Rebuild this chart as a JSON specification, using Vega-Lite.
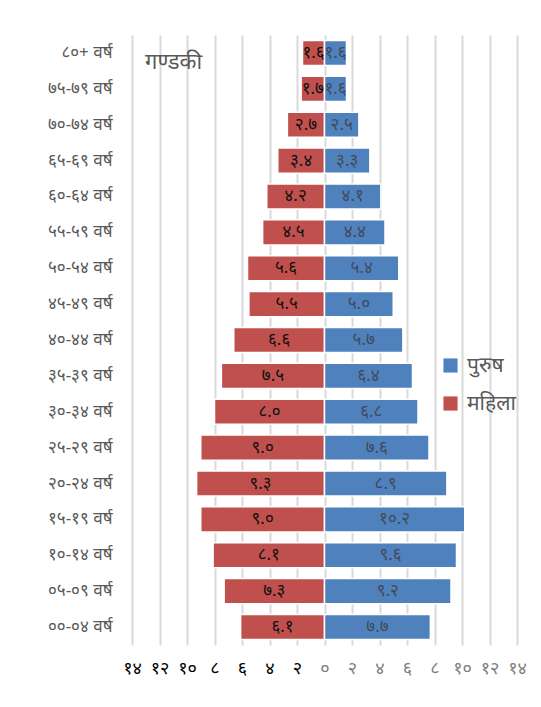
{
  "$schema": "https://vega.github.io/schema/vega-lite/v6.json",
  "width": 385,
  "height": 610,
  "autosize": {"type": "none"},
  "padding": {"left": 132, "top": 35, "right": 24, "bottom": 62},
  "background": "white",
  "title": {"text": "गण्डकी", "anchor": "start", "frame": "group", "orient": "top", "offset": -39, "dx": 13, "fontSize": 22, "fontWeight": "normal", "color": "#595959", "font": "Noto Sans"},
  "config": {"view": {"stroke": null}, "font": "Noto Sans"},
  "data": {"values": [
    {"age": "८०+ वर्ष", "sex": "महिला", "value": -1.6, "label": "१.६"},
    {"age": "८०+ वर्ष", "sex": "पुरुष", "value": 1.6, "label": "१.६"},
    {"age": "७५-७९ वर्ष", "sex": "महिला", "value": -1.7, "label": "१.७"},
    {"age": "७५-७९ वर्ष", "sex": "पुरुष", "value": 1.6, "label": "१.६"},
    {"age": "७०-७४ वर्ष", "sex": "महिला", "value": -2.7, "label": "२.७"},
    {"age": "७०-७४ वर्ष", "sex": "पुरुष", "value": 2.5, "label": "२.५"},
    {"age": "६५-६९ वर्ष", "sex": "महिला", "value": -3.4, "label": "३.४"},
    {"age": "६५-६९ वर्ष", "sex": "पुरुष", "value": 3.3, "label": "३.३"},
    {"age": "६०-६४ वर्ष", "sex": "महिला", "value": -4.2, "label": "४.२"},
    {"age": "६०-६४ वर्ष", "sex": "पुरुष", "value": 4.1, "label": "४.१"},
    {"age": "५५-५९ वर्ष", "sex": "महिला", "value": -4.5, "label": "४.५"},
    {"age": "५५-५९ वर्ष", "sex": "पुरुष", "value": 4.4, "label": "४.४"},
    {"age": "५०-५४ वर्ष", "sex": "महिला", "value": -5.6, "label": "५.६"},
    {"age": "५०-५४ वर्ष", "sex": "पुरुष", "value": 5.4, "label": "५.४"},
    {"age": "४५-४९ वर्ष", "sex": "महिला", "value": -5.5, "label": "५.५"},
    {"age": "४५-४९ वर्ष", "sex": "पुरुष", "value": 5.0, "label": "५.०"},
    {"age": "४०-४४ वर्ष", "sex": "महिला", "value": -6.6, "label": "६.६"},
    {"age": "४०-४४ वर्ष", "sex": "पुरुष", "value": 5.7, "label": "५.७"},
    {"age": "३५-३९ वर्ष", "sex": "महिला", "value": -7.5, "label": "७.५"},
    {"age": "३५-३९ वर्ष", "sex": "पुरुष", "value": 6.4, "label": "६.४"},
    {"age": "३०-३४ वर्ष", "sex": "महिला", "value": -8.0, "label": "८.०"},
    {"age": "३०-३४ वर्ष", "sex": "पुरुष", "value": 6.8, "label": "६.८"},
    {"age": "२५-२९ वर्ष", "sex": "महिला", "value": -9.0, "label": "९.०"},
    {"age": "२५-२९ वर्ष", "sex": "पुरुष", "value": 7.6, "label": "७.६"},
    {"age": "२०-२४ वर्ष", "sex": "महिला", "value": -9.3, "label": "९.३"},
    {"age": "२०-२४ वर्ष", "sex": "पुरुष", "value": 8.9, "label": "८.९"},
    {"age": "१५-१९ वर्ष", "sex": "महिला", "value": -9.0, "label": "९.०"},
    {"age": "१५-१९ वर्ष", "sex": "पुरुष", "value": 10.2, "label": "१०.२"},
    {"age": "१०-१४ वर्ष", "sex": "महिला", "value": -8.1, "label": "८.१"},
    {"age": "१०-१४ वर्ष", "sex": "पुरुष", "value": 9.6, "label": "९.६"},
    {"age": "०५-०९ वर्ष", "sex": "महिला", "value": -7.3, "label": "७.३"},
    {"age": "०५-०९ वर्ष", "sex": "पुरुष", "value": 9.2, "label": "९.२"},
    {"age": "००-०४ वर्ष", "sex": "महिला", "value": -6.1, "label": "६.१"},
    {"age": "००-०४ वर्ष", "sex": "पुरुष", "value": 7.7, "label": "७.७"}
  ]},
  "transform": [{"calculate": "datum.value / 2", "as": "mid"}],
  "encoding": {
    "y": {
      "field": "age", "type": "nominal", "sort": null,
      "scale": {"paddingInner": 0.3, "paddingOuter": 0.15},
      "axis": {"title": null, "domain": false, "ticks": false, "grid": false, "labelPadding": 20, "labelFontSize": 17, "labelColor": "#595959"}
    }
  },
  "layer": [
    {
      "mark": {"type": "bar", "stroke": "white", "strokeWidth": 1.5},
      "encoding": {
        "x": {
          "field": "value", "type": "quantitative",
          "scale": {"domain": [-14, 14], "nice": false, "zero": false},
          "axis": {
            "title": null, "values": [-14, -12, -10, -8, -6, -4, -2, 0, 2, 4, 6, 8, 10, 12, 14],
            "labelExpr": "['०','२','४','६','८','१०','१२','१४'][abs(datum.value) / 2]",
            "labelFontSize": 18, "labelPadding": 14, "labelOverlap": false, "labelFlush": false,
            "labelColor": {"expr": "datum.value < 0 ? '#000000' : '#7f7f7f'"},
            "domain": false, "ticks": false,
            "grid": true, "gridColor": "#d9d9d9", "gridWidth": 2
          }
        },
        "color": {
          "field": "sex", "type": "nominal",
          "scale": {"domain": ["पुरुष", "महिला"], "range": ["#4f81bd", "#c0504d"]},
          "legend": {
            "title": null, "orient": "none", "legendX": 308, "legendY": 320,
            "symbolType": "square", "symbolSize": 200, "symbolStrokeWidth": 0,
            "labelFontSize": 21, "labelColor": "#595959", "rowPadding": 16, "labelOffset": 6
          }
        }
      }
    },
    {
      "mark": {"type": "text", "fontSize": 17, "baseline": "middle", "align": "center"},
      "encoding": {
        "x": {
          "field": "mid", "type": "quantitative",
          "axis": {
            "title": null, "values": [-14, -12, -10, -8, -6, -4, -2, 0, 2, 4, 6, 8, 10, 12, 14],
            "labelExpr": "['०','२','४','६','८','१०','१२','१४'][abs(datum.value) / 2]",
            "labelFontSize": 18, "labelPadding": 14, "labelOverlap": false, "labelFlush": false,
            "labelColor": {"expr": "datum.value < 0 ? '#000000' : '#7f7f7f'"},
            "domain": false, "ticks": false,
            "grid": true, "gridColor": "#d9d9d9", "gridWidth": 2
          }
        },
        "text": {"field": "label"},
        "color": {"condition": {"test": "datum.sex === 'महिला'", "value": "#111111"}, "value": "#404a5a"}
      }
    }
  ]
}
